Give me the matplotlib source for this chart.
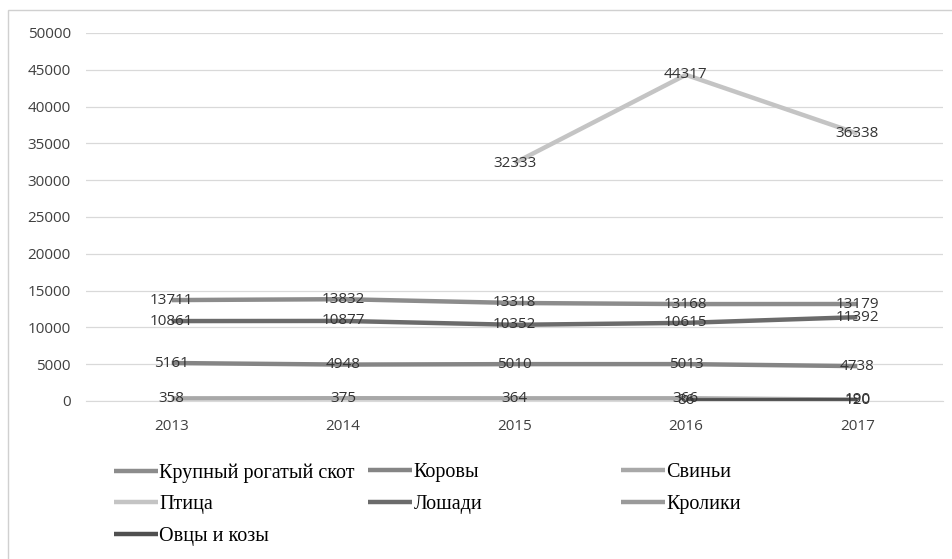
import numpy as np
import matplotlib.pyplot as plt
from matplotlib.patches import Rectangle

years = ["2013", "2014", "2015", "2016", "2017"]

krs = [13711, 13832, 13318, 13168, 13179]
korovy = [5161, 4948, 5010, 5013, 4738]
svinyi = [358, 375, 364, 366, 190]
ptitsa = [np.nan, np.nan, 32333, 44317, 36338]
loshadi = [10861, 10877, 10352, 10615, 11392]
kroliki = [np.nan, np.nan, np.nan, np.nan, np.nan]
ovtsy = [np.nan, np.nan, np.nan, 86, 120]

names = ["Крупный рогатый скот", "Коровы", "Свиньи", "Птица",
         "Лошади", "Кролики", "Овцы и козы"]
series = [krs, korovy, svinyi, ptitsa, loshadi, kroliki, ovtsy]
colors = ["#8c8c8c", "#858585", "#a8a8a8", "#c4c4c4",
          "#6b6b6b", "#9a9a9a", "#505050"]

num_font = "Open Sans"

fig = plt.figure(figsize=(9.52, 5.59), dpi=100)
ax = fig.add_axes([86 / 952, 1 - 401 / 559, 857 / 952, 368 / 559])

x = np.arange(len(years))
lines = []
for vals, c, n in zip(series, colors, names):
    ln, = ax.plot(x, vals, color=c, lw=3.2, label=n, solid_capstyle="butt")
    lines.append(ln)
    for xi, v in zip(x, vals):
        if np.isnan(v):
            continue
        ax.text(xi, v, f"{v:.0f}", ha="center", va="center",
                fontsize=11, color="#333333", family=num_font)

ax.set_xlim(-0.5, 4.5)
ax.set_ylim(0, 50000)
ax.set_yticks(np.arange(0, 50001, 5000))
ax.set_xticks(x)
ax.set_xticklabels(years)
ax.tick_params(length=0, labelsize=11, labelcolor="#404040")
ax.tick_params(axis="y", pad=11)
ax.tick_params(axis="x", pad=13)
for lab in ax.get_xticklabels() + ax.get_yticklabels():
    lab.set_family(num_font)
ax.grid(axis="y", color="#d9d9d9", lw=0.9)
ax.set_axisbelow(True)
for s in ["top", "right", "left"]:
    ax.spines[s].set_visible(False)
ax.spines["bottom"].set_color("#d9d9d9")

# legend: three columns of equal width like Excel
col_x = [106 / 952, 360 / 952, 613 / 952]
cols = [[0, 3, 6], [1, 4], [2, 5]]
for cx, idx in zip(col_x, cols):
    fig.legend([lines[i] for i in idx], [names[i] for i in idx],
               loc="upper left", bbox_to_anchor=(cx, 1 - 455 / 559),
               frameon=False, handlelength=2.2, handletextpad=0.05,
               labelspacing=0.62, borderaxespad=0,
               prop={"family": "Liberation Serif", "size": 14.5})

fig.patches.append(Rectangle((8 / 952, -0.1), 1.0, 1 - 10 / 559 + 0.1,
                             transform=fig.transFigure, fill=False,
                             edgecolor="#d0d0d0", lw=1))

fig.savefig("out.png", dpi=100)
